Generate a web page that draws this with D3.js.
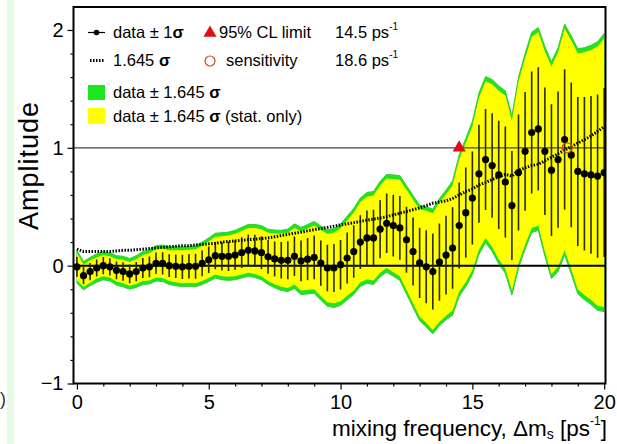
<!DOCTYPE html>
<html><head><meta charset="utf-8">
<script src="https://cdn.jsdelivr.net/npm/d3@7"></script>
<style>
html,body{margin:0;padding:0;background:#fff;}
svg{display:block;font-family:"Liberation Sans",Arial,sans-serif;}
</style></head>
<body>
<svg id="c" width="617" height="444"></svg>
<script>
// Oscillation frequency scan: x = Δm_s (ps^-1), step 0.25
const freq = d3.range(81).map(i => i * 0.25);
const amplitude = [-0.01,-0.085,-0.05,-0.02,0.0,-0.01,-0.04,-0.05,-0.07,-0.05,
 -0.02,-0.01,0.02,0.02,0.0,-0.005,-0.01,-0.005,-0.005,0.02,
 0.05,0.085,0.08,0.08,0.09,0.11,0.13,0.125,0.11,0.075,
 0.057,0.045,0.045,0.08,0.04,0.055,0.07,0.022,-0.02,-0.02,
 0.008,0.065,0.12,0.20,0.235,0.235,0.31,0.36,0.34,0.32,
 0.22,0.12,0.023,-0.01,-0.05,0.03,0.09,0.15,0.34,0.45,
 0.574,0.78,0.90,0.85,0.77,0.71,0.51,0.79,0.97,1.13,
 1.16,0.97,0.81,0.90,1.07,0.94,0.80,0.78,0.77,0.76,0.79];
// 1.645 sigma (total)
const sig1645 = [0.14,0.12,0.12,0.12,0.12,0.12,0.125,0.13,0.13,0.135,
 0.14,0.145,0.15,0.155,0.16,0.165,0.17,0.17,0.175,0.18,
 0.185,0.19,0.20,0.205,0.21,0.215,0.22,0.225,0.23,0.235,
 0.245,0.255,0.265,0.275,0.285,0.295,0.305,0.315,0.325,0.335,
 0.345,0.355,0.365,0.375,0.385,0.395,0.405,0.415,0.43,0.445,
 0.46,0.475,0.49,0.51,0.53,0.54,0.55,0.57,0.60,0.63,
 0.65,0.685,0.705,0.73,0.755,0.775,0.76,0.81,0.83,0.85,
 0.86,0.89,0.92,0.95,0.98,1.01,1.04,1.07,1.10,1.14,1.18];
// 1.645 sigma (stat. only)
const stat1645 = [0.115,0.095,0.095,0.09,0.09,0.09,0.095,0.10,0.10,0.105,
 0.11,0.115,0.12,0.125,0.13,0.135,0.14,0.14,0.145,0.15,
 0.155,0.16,0.17,0.175,0.18,0.185,0.19,0.195,0.20,0.205,
 0.215,0.225,0.235,0.24,0.25,0.26,0.27,0.28,0.29,0.30,
 0.31,0.32,0.33,0.34,0.35,0.36,0.37,0.38,0.395,0.41,
 0.425,0.44,0.455,0.475,0.495,0.505,0.515,0.53,0.56,0.59,
 0.61,0.645,0.665,0.69,0.715,0.735,0.72,0.77,0.79,0.81,
 0.82,0.85,0.88,0.91,0.94,0.97,1.0,1.03,1.06,1.10,1.14];
const xTicks = [0,5,10,15,20];
const yTicks = [-1,0,1,2];
const limitVal = 14.5, sensVal = 18.6;

const data = freq.map((f,i)=>({f, a:amplitude[i], s:sig1645[i], st:stat1645[i]}));

const svg = d3.select("#c");
// pale green strip at left edge
svg.append("rect").attr("x",7).attr("y",0).attr("width",7).attr("height",444).attr("fill","#e4fae4");

const x = d3.scaleLinear().domain([-0.13,20.05]).range([73.5,605.5]);
const y = d3.scaleLinear().domain([-1,2.195]).range([383.5,7]);

svg.append("clipPath").attr("id","clip").append("rect")
  .attr("x",73.5).attr("y",7).attr("width",532).attr("height",376.5);
const g = svg.append("g").attr("clip-path","url(#clip)");

g.append("path").datum(data)
  .attr("d", d3.area().x(d=>x(d.f)).y0(d=>y(d.a-d.s)).y1(d=>y(d.a+d.s)))
  .attr("fill","#1ee61e").attr("stroke","#3cc83c").attr("stroke-width",1);
g.append("path").datum(data)
  .attr("d", d3.area().x(d=>x(d.f)).y0(d=>y(d.a-d.st)).y1(d=>y(d.a+d.st)))
  .attr("fill","#ffff00");

// reference lines
g.append("line").attr("x1",73.5).attr("x2",605.5).attr("y1",y(1)).attr("y2",y(1))
  .attr("stroke","#444").attr("stroke-width",1.3);
g.append("line").attr("x1",73.5).attr("x2",605.5).attr("y1",y(0)).attr("y2",y(0))
  .attr("stroke","#000").attr("stroke-width",2);

// error bars (±1σ)
g.selectAll("line.eb").data(data).enter().append("line").attr("class","eb")
  .attr("x1",d=>x(d.f)).attr("x2",d=>x(d.f))
  .attr("y1",d=>y(d.a - d.s/1.645)).attr("y2",d=>y(d.a + d.s/1.645))
  .attr("stroke","#2a2a10").attr("stroke-width",1.6);

// 1.645 sigma dotted line
g.append("path").datum(data)
  .attr("d", d3.line().x(d=>x(d.f)).y(d=>y(d.s)))
  .attr("fill","none").attr("stroke","#000").attr("stroke-width",3)
  .attr("stroke-dasharray","1.5,1.5");

// points
g.selectAll("circle.pt").data(data).enter().append("circle").attr("class","pt")
  .attr("cx",d=>x(d.f)).attr("cy",d=>y(d.a)).attr("r",3.6).attr("fill","#000");

// limit & sensitivity markers
const tri = d3.symbol().type(d3.symbolTriangle).size(75);
g.append("path").attr("d",tri).attr("transform",`translate(${x(limitVal)},${y(1)})`).attr("fill","#dd1111");
g.append("circle").attr("cx",x(sensVal)).attr("cy",y(1)).attr("r",5)
  .attr("fill","none").attr("stroke","#c8501e").attr("stroke-width",1.3);

// axes
const fontTick = "20px";
const yAx = svg.append("g").attr("transform","translate(73.5,0)")
  .call(d3.axisLeft(y).tickValues(yTicks).tickSize(6).tickPadding(4).tickFormat(d3.format("d")));
svg.append("g").attr("transform","translate(73.5,0)")
  .call(d3.axisLeft(y).tickValues(d3.range(-0.8,2.19,0.2).filter(v=>Math.abs(v-Math.round(v))>0.01)).tickSize(3).tickFormat(""))
  .call(a=>a.select(".domain").remove());
const xAx = svg.append("g").attr("transform","translate(0,383.5)")
  .call(d3.axisBottom(x).tickValues(xTicks).tickSize(6).tickPadding(5).tickFormat(d3.format("d")));
svg.append("g").attr("transform","translate(0,383.5)")
  .call(d3.axisBottom(x).tickValues(d3.range(1,20).filter(v=>v%5!==0)).tickSize(3).tickFormat(""))
  .call(a=>a.select(".domain").remove());
svg.selectAll(".tick line").attr("stroke","#000").attr("stroke-width",1.2);
[yAx,xAx].forEach(a=>{a.select(".domain").remove();a.selectAll("text").attr("font-size",fontTick).attr("fill","#000").style("font-family","Liberation Sans, Arial, sans-serif");});

// frame
svg.append("rect").attr("x",73.5).attr("y",7).attr("width",532).attr("height",376.5)
  .attr("fill","none").attr("stroke","#000").attr("stroke-width",2);

// axis titles
svg.append("text").attr("transform","translate(38,166) rotate(-90)").attr("text-anchor","middle")
  .attr("font-size","27px").attr("textLength",128).text("Amplitude");
const xt = svg.append("text").attr("x",607).attr("y",436).attr("text-anchor","end").attr("font-size","22.5px");
xt.append("tspan").text("mixing frequency, Δm");
xt.append("tspan").attr("font-size","14px").attr("dy",3).text("s");
xt.append("tspan").attr("dy",-3).text(" [ps");
xt.append("tspan").attr("font-size","12px").attr("dy",-11).text("-1");
xt.append("tspan").attr("dy",11).text("]");

svg.append("text").attr("x",0).attr("y",405).attr("font-size","18px").attr("fill","#333").text(")");

// legend
const L = svg.append("g").attr("font-size","16.5px");
L.append("line").attr("x1",88).attr("x2",105).attr("y1",32.5).attr("y2",32.5).attr("stroke","#000").attr("stroke-width",1.2);
L.append("circle").attr("cx",96.5).attr("cy",32.5).attr("r",2.8).attr("fill","#000");
const t1 = L.append("text").attr("x",113).attr("y",38);
t1.append("tspan").text("data ± 1");
t1.append("tspan").attr("font-weight","bold").text("σ");
L.append("path").attr("d",tri).attr("transform","translate(210,33)").attr("fill","#dd1111");
L.append("text").attr("x",219).attr("y",38).text("95% CL limit");
const t3 = L.append("text").attr("x",335).attr("y",38);
t3.append("tspan").text(limitVal.toFixed(1)+" ps");
t3.append("tspan").attr("font-size","10px").attr("dy",-8).text("-1");

L.append("line").attr("x1",90).attr("x2",104).attr("y1",60.5).attr("y2",60.5).attr("stroke","#000").attr("stroke-width",3).attr("stroke-dasharray","1.5,1.5");
const t2 = L.append("text").attr("x",113).attr("y",66);
t2.append("tspan").text("1.645 ");
t2.append("tspan").attr("font-weight","bold").text("σ");
L.append("circle").attr("cx",210).attr("cy",61).attr("r",5).attr("fill","none").attr("stroke","#c8501e").attr("stroke-width",1.2);
L.append("text").attr("x",226).attr("y",66).text("sensitivity");
const t4 = L.append("text").attr("x",335).attr("y",66);
t4.append("tspan").text(sensVal.toFixed(1)+" ps");
t4.append("tspan").attr("font-size","10px").attr("dy",-8).text("-1");

L.append("rect").attr("x",88).attr("y",85).attr("width",17).attr("height",15).attr("fill","#1ee61e");
const t5 = L.append("text").attr("x",113).attr("y",98);
t5.append("tspan").text("data ± 1.645 ");
t5.append("tspan").attr("font-weight","bold").text("σ");
L.append("rect").attr("x",88).attr("y",108).attr("width",17).attr("height",16).attr("fill","#ffff00");
const t6 = L.append("text").attr("x",113).attr("y",122);
t6.append("tspan").text("data ± 1.645 ");
t6.append("tspan").attr("font-weight","bold").text("σ");
t6.append("tspan").text(" (stat. only)");
</script>
</body></html>
